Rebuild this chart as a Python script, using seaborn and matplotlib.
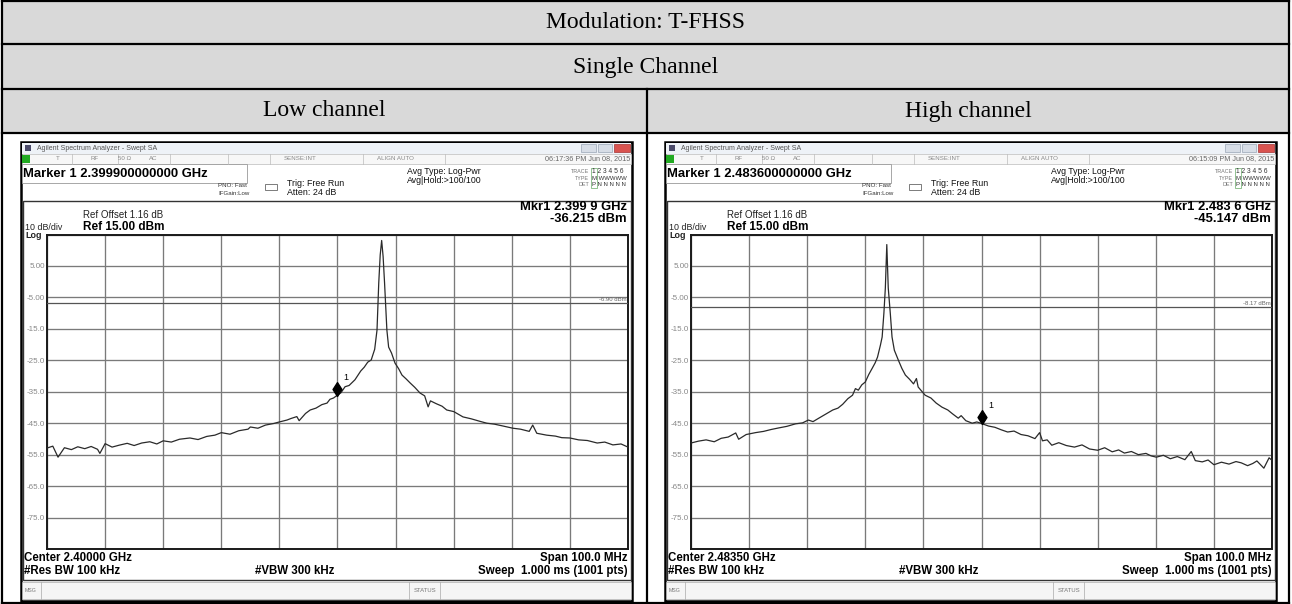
import numpy as np
import matplotlib
matplotlib.use("Agg")
import matplotlib.pyplot as plt
import matplotlib.transforms as mtransforms
from matplotlib.patches import Rectangle
from matplotlib.path import Path
import seaborn as sns

# ---------------- data ----------------
TABLE_TITLE = "Modulation: T-FHSS"
TABLE_SUB = "Single Channel"
COLUMN_TITLES = ["Low channel", "High channel"]

LOW_START, LOW_STOP = 2350.0, 2450.0      # MHz (center 2.40000 GHz, span 100 MHz)
HIGH_START, HIGH_STOP = 2433.5, 2533.5    # MHz (center 2.48350 GHz, span 100 MHz)

LOW_FREQ = [2350.0, 2351.0, 2351.9, 2353.0, 2354.2, 2355.3, 2356.5, 2357.6, 2358.7, 2359.1,
            2360.0, 2361.2, 2362.4, 2363.8, 2365.0, 2366.3, 2367.7, 2368.9, 2370.0, 2371.4,
            2372.8, 2374.6, 2376.0, 2377.5, 2378.9, 2380.0, 2381.5, 2383.0, 2384.6, 2385.0,
            2386.3, 2387.6, 2389.0, 2390.0, 2391.3, 2392.0, 2393.0, 2393.4, 2394.5, 2395.3,
            2396.3, 2397.3, 2398.2, 2398.7, 2399.3, 2399.9, 2400.6, 2401.3, 2402.0, 2403.0,
            2404.0, 2404.6, 2405.2, 2405.8, 2406.4, 2406.8, 2407.1, 2407.35, 2407.6, 2407.85,
            2408.1, 2408.5, 2408.8, 2409.3, 2409.9, 2410.5, 2411.1, 2411.8, 2412.5, 2413.3,
            2414.2, 2415.0, 2415.6, 2416.0, 2417.0, 2418.0, 2418.8, 2420.0, 2421.6, 2423.0,
            2424.5, 2425.7, 2427.0, 2428.5, 2430.2, 2431.5, 2433.0, 2433.6, 2434.3, 2436.0,
            2437.5, 2438.6, 2440.0, 2441.5, 2443.0, 2444.7, 2446.0, 2447.4, 2448.8, 2450.0]
LOW_LEVEL = [-52.9, -52.3, -55.8, -52.8, -53.4, -52.5, -53.1, -52.4, -53.3, -54.6,
             -51.5, -52.6, -52.0, -51.4, -52.1, -51.3, -50.9, -51.6, -50.6, -51.0,
             -50.1, -49.7, -50.2, -49.2, -48.8, -48.0, -48.5, -47.4, -46.9, -46.2,
             -46.6, -45.6, -45.1, -44.6, -44.0, -43.5, -42.9, -44.2, -41.9, -40.8,
             -40.2, -39.1, -38.6, -37.4, -37.0, -36.2, -35.3, -33.4, -33.0, -31.2,
             -28.4, -27.2, -25.6, -24.9, -21.5, -15.4, -0.4, 8.5, 13.1, 8.0,
             -0.4, -15.4, -20.8, -22.7, -25.9, -27.6, -29.7, -30.9, -32.2, -33.6,
             -35.4, -36.3, -39.8, -37.9, -38.8, -39.6, -40.8, -41.3, -43.0, -43.6,
             -44.4, -45.0, -45.3, -45.9, -46.6, -46.9, -47.6, -45.6, -48.2, -48.8,
             -49.1, -49.6, -49.7, -50.3, -50.5, -51.3, -51.0, -51.9, -51.6, -52.6]

HIGH_FREQ = [2433.5, 2434.8, 2436.1, 2437.5, 2438.7, 2439.9, 2441.2, 2441.7, 2443.0, 2444.6,
             2446.0, 2447.3, 2448.6, 2450.0, 2451.5, 2452.7, 2453.7, 2454.5, 2455.5, 2456.7,
             2457.9, 2458.8, 2459.6, 2460.5, 2461.3, 2461.8, 2462.3, 2462.9, 2463.5, 2464.1,
             2464.7, 2465.2, 2465.6, 2466.1, 2466.4, 2466.7, 2466.95, 2467.2, 2467.45, 2467.8,
             2468.1, 2468.5, 2469.2, 2469.8, 2470.4, 2471.1, 2471.8, 2472.3, 2472.6, 2473.8,
             2474.8, 2475.7, 2476.7, 2477.7, 2478.5, 2479.5, 2480.0, 2480.8, 2481.9, 2482.7,
             2483.6, 2484.7, 2485.8, 2486.9, 2488.0, 2489.1, 2490.3, 2491.5, 2492.7, 2493.5,
             2494.0, 2494.8, 2495.6, 2496.8, 2498.1, 2499.5, 2500.8, 2502.1, 2503.5, 2504.7,
             2506.0, 2507.1, 2508.1, 2509.3, 2510.5, 2511.8, 2512.7, 2513.6, 2514.8, 2516.0,
             2517.2, 2518.5, 2519.6, 2520.3, 2521.5, 2522.5, 2523.5, 2524.8, 2526.1, 2527.3,
             2528.2, 2529.3, 2530.2, 2530.9, 2532.1, 2533.0, 2533.5]
HIGH_LEVEL = [-51.3, -50.7, -50.3, -50.9, -49.8, -49.4, -48.1, -50.1, -48.6, -48.0,
              -47.6, -47.0, -46.5, -46.0, -45.2, -44.9, -44.0, -44.5, -43.4, -42.1,
              -40.8, -40.2, -39.0, -37.2, -36.1, -34.0, -34.5, -32.8, -31.9, -29.5,
              -27.5, -25.8, -24.0, -20.2, -17.6, -10.0, -2.0, 11.8, -2.0, -10.0,
              -17.6, -21.8, -25.0, -27.6, -29.7, -31.0, -32.5, -30.8, -33.5, -36.1,
              -37.0, -38.6, -39.9, -40.8, -42.0, -43.4, -42.6, -44.2, -45.0, -44.6,
              -45.15, -45.9, -46.3, -47.1, -47.8, -47.5, -48.6, -49.0, -49.9, -48.0,
              -50.6, -50.3, -52.0, -51.2, -52.1, -52.6, -51.9, -53.2, -53.6, -52.8,
              -54.1, -53.5, -54.5, -54.0, -55.0, -54.6, -55.4, -55.8, -55.2, -56.3,
              -55.6, -56.6, -54.0, -56.9, -57.3, -56.7, -58.2, -57.4, -58.0, -57.2,
              -57.6, -58.5, -57.8, -57.0, -59.3, -56.0, -56.8]

MARKER_FREQ = [2399.9, 2483.6]
MARKER_LEVEL = [-36.215, -45.147]
DISPLAY_LINE = [-6.90, -8.17]

REF_LEVEL = 15.0
Y_TICKS = [-85, -75, -65, -55, -45, -35, -25, -15, -5, 5, 15]
Y_TICK_LABELS = ["", "-75.0", "-65.0", "-55.0", "-45.0", "-35.0", "-25.0", "-15.0", "-5.00", "5.00", ""]

MARKER_HEAD = ["Marker 1 2.399900000000 GHz", "Marker 1 2.483600000000 GHz"]
MKR_FREQ_TXT = ["Mkr1 2.399 9 GHz", "Mkr1 2.483 6 GHz"]
MKR_LEVEL_TXT = ["-36.215 dBm", "-45.147 dBm"]
CENTER_TXT = ["Center 2.40000 GHz", "Center 2.48350 GHz"]
TIME_TXT = ["06:17:36 PM Jun 08, 2015", "06:15:09 PM Jun 08, 2015"]

# ---------------- figure ----------------
sns.set_theme(style="white")
plt.rcParams['font.family'] = ['Liberation Sans', 'DejaVu Sans']
SANS = ['Liberation Sans', 'DejaVu Sans']
SERIF = ['Liberation Serif', 'DejaVu Serif']

W, H = 1292, 604
fig = plt.figure(figsize=(W / 100, H / 100), dpi=100)
bg = fig.add_axes([0, 0, 1, 1])
bg.set_xlim(0, W)
bg.set_ylim(H, 0)
bg.axis('off')


def rect(x0, y0, x1, y1, fc='none', ec='none', lw=0.0, z=1):
    bg.add_patch(Rectangle((x0, y0), x1 - x0, y1 - y0, facecolor=fc,
                           edgecolor=ec, linewidth=lw, zorder=z))


def line(x0, y0, x1, y1, color='black', lw=1.0, z=3):
    bg.plot([x0, x1], [y0, y1], color=color, lw=lw, zorder=z, solid_capstyle='projecting')


def txt(x, y, s, size=6, color='black', ha='left', va='center', weight='normal', family=None, z=5):
    bg.text(x, y, s, fontsize=size, color=color, ha=ha, va=va, fontweight=weight,
            family=family or SANS, zorder=z)


# ---- table ----
TL, TR = 2, 1289
rect(TL, 0, TR, 133, fc='#d9d9d9')
for yy in (1, 44, 89, 133, 603):
    line(TL, yy, TR, yy, lw=1.6)
line(TL, 0, TL, H, lw=1.6)
line(TR, 0, TR, H, lw=1.6)
line(647, 89, 647, H, lw=1.6)
txt(646, 23, TABLE_TITLE, size=17, ha='center', family=SERIF)
txt(646, 67, TABLE_SUB, size=17, ha='center', family=SERIF)
txt((TL + 647) / 2, 111, COLUMN_TITLES[0], size=17, ha='center', family=SERIF)
txt((647 + TR) / 2, 111, COLUMN_TITLES[1], size=17, ha='center', family=SERIF)


def chrome(ox, i):
    # window
    rect(ox + 21, 142, ox + 632, 601, fc='white', ec='black', lw=1.8, z=1)
    rect(ox + 22, 143, ox + 631, 154, fc='#eef2f7', z=2)
    rect(ox + 25, 145, ox + 31, 151, fc='#4a4a6a', z=3)
    txt(ox + 37, 148.5, 'Agilent Spectrum Analyzer - Swept SA', size=5.0, color='#555')
    rect(ox + 581, 144, ox + 596, 152, fc='#d7dde6', ec='#9aa5b5', lw=0.5, z=3)
    rect(ox + 598, 144, ox + 612, 152, fc='#d7dde6', ec='#9aa5b5', lw=0.5, z=3)
    rect(ox + 614, 144, ox + 630, 152, fc='#d9534f', ec='#a33333', lw=0.5, z=3)
    # status row
    rect(ox + 22, 154, ox + 631, 164, fc='#f7f7f7', ec='#bbbbbb', lw=0.5, z=2)
    rect(ox + 22, 155, ox + 30, 163, fc='#22aa22', z=3)
    for xx in (72, 118, 170, 228, 270, 363, 445):
        line(ox + xx, 154, ox + xx, 164, color='#bbbbbb', lw=0.5)
    for xx, s in ((58, 'T'), (95, 'RF'), (125, '50 Ω'), (153, 'AC'), (300, 'SENSE:INT'), (395, 'ALIGN AUTO')):
        txt(ox + xx, 159, s, size=4.4, color='#888', ha='center')
    txt(ox + 630, 159, TIME_TXT[i], size=5.2, color='#666', ha='right')
    # marker box
    rect(ox + 22, 164, ox + 247, 183, fc='white', ec='#999999', lw=0.6, z=2)
    txt(ox + 23, 174, MARKER_HEAD[i], size=9.4, weight='bold')
    # settings
    txt(ox + 218, 185.5, 'PNO: Fast', size=4.4, color='#333')
    txt(ox + 218, 193.5, 'IFGain:Low', size=4.4, color='#333')
    rect(ox + 265, 184, ox + 277, 190, fc='white', ec='#666666', lw=0.6, z=3)
    txt(ox + 287, 183, 'Trig: Free Run', size=6.4, color='#111')
    txt(ox + 287, 192.5, 'Atten: 24 dB', size=6.4, color='#111')
    txt(ox + 407, 171.5, 'Avg Type: Log-Pwr', size=6.3, color='#111')
    txt(ox + 407, 180.5, 'Avg|Hold:>100/100', size=6.3, color='#111')
    txt(ox + 589, 171.5, 'TRACE', size=3.9, color='#777', ha='right')
    txt(ox + 589, 178, 'TYPE', size=3.9, color='#777', ha='right')
    txt(ox + 589, 184.5, 'DET', size=3.9, color='#777', ha='right')
    rect(ox + 591, 168, ox + 597, 188, fc='none', ec='#66aa66', lw=0.5, z=3)
    txt(ox + 592, 171.5, '1 2 3 4 5 6', size=4.8, color='#333')
    txt(ox + 592, 178, 'M WWWWW', size=4.3, color='#333')
    txt(ox + 592, 184.5, 'P N N N N N', size=4.3, color='#333')
    # plot frame
    rect(ox + 23, 201, ox + 631, 580, fc='none', ec='#333333', lw=1.0, z=2)
    txt(ox + 83, 215.5, 'Ref Offset 1.16 dB', size=7.0, color='#222')
    txt(ox + 83, 227, 'Ref 15.00 dBm', size=8.5, weight='bold')
    txt(ox + 25, 227, '10 dB/div', size=6.4, color='#222')
    txt(ox + 25, 235.5, 'Log', size=6.4, color='#222', weight='bold')
    txt(ox + 627, 206.5, MKR_FREQ_TXT[i], size=9.4, weight='bold', ha='right')
    txt(ox + 627, 219.5, MKR_LEVEL_TXT[i], size=9.4, weight='bold', ha='right')
    txt(ox + 24, 558, CENTER_TXT[i], size=8.3, weight='bold')
    txt(ox + 24, 571, '#Res BW 100 kHz', size=8.3, weight='bold')
    txt(ox + 255, 571, '#VBW 300 kHz', size=8.3, weight='bold')
    txt(ox + 628, 558, 'Span 100.0 MHz', size=8.3, weight='bold', ha='right')
    txt(ox + 628, 571, 'Sweep  1.000 ms (1001 pts)', size=8.3, weight='bold', ha='right')
    # message bar
    rect(ox + 22, 582, ox + 631, 599, fc='#f5f5f5', ec='#aaaaaa', lw=0.5, z=2)
    line(ox + 41, 582, ox + 41, 599, color='#aaaaaa', lw=0.5)
    line(ox + 409, 582, ox + 409, 599, color='#aaaaaa', lw=0.5)
    line(ox + 440, 582, ox + 440, 599, color='#aaaaaa', lw=0.5)
    txt(ox + 25, 590, 'MSG', size=3.8, color='#777')
    txt(ox + 424.5, 590, 'STATUS', size=4.3, color='#777', ha='center')


diamond = Path([(0, 0), (0.32, 0.5), (0, 1), (-0.32, 0.5), (0, 0)],
               [Path.MOVETO, Path.LINETO, Path.LINETO, Path.LINETO, Path.CLOSEPOLY])

traces = [(LOW_FREQ, LOW_LEVEL, LOW_START, LOW_STOP), (HIGH_FREQ, HIGH_LEVEL, HIGH_START, HIGH_STOP)]
OFFSETS = [0, 644]

for i, (fx, lv, f0, f1) in enumerate(traces):
    ox = OFFSETS[i]
    chrome(ox, i)
    gx0, gx1, gy0, gy1 = ox + 47, ox + 628, 234.5, 549
    ax = fig.add_axes([gx0 / W, 1 - gy1 / H, (gx1 - gx0) / W, (gy1 - gy0) / H])
    ax.set_facecolor('white')
    sns.lineplot(x=fx, y=lv, ax=ax, color='#2a2a2a', linewidth=0.9, estimator=None, sort=False, zorder=4)
    ax.set_xlim(f0, f1)
    ax.set_ylim(Y_TICKS[0], REF_LEVEL)
    ax.set_xticks(np.linspace(f0, f1, 11))
    ax.set_xticklabels([])
    ax.set_yticks(Y_TICKS)
    ax.set_yticklabels(Y_TICK_LABELS)
    ax.tick_params(axis='both', length=0)
    ax.tick_params(axis='y', pad=1.5, labelsize=5.8, labelcolor='#888888')
    ax.grid(True, color='#7a7a7a', linewidth=0.95)
    ax.set_xlabel('')
    ax.set_ylabel('')
    for sp in ax.spines.values():
        sp.set_visible(True)
        sp.set_color('#1a1a1a')
        sp.set_linewidth(1.4)
    # display line
    ax.axhline(DISPLAY_LINE[i], color='#555555', linewidth=0.9, zorder=3)
    trans = mtransforms.blended_transform_factory(ax.transAxes, ax.transData)
    ax.text(0.997, DISPLAY_LINE[i] + 0.4, f"{DISPLAY_LINE[i]:.2f} dBm", transform=trans,
            ha='right', va='bottom', fontsize=4.3, color='#666666')
    # marker
    ax.plot([MARKER_FREQ[i]], [MARKER_LEVEL[i]], linestyle='none', marker=diamond,
            markersize=20, color='black', zorder=6)
    ax.annotate('1', xy=(MARKER_FREQ[i], MARKER_LEVEL[i]), xytext=(4.5, 11),
                textcoords='offset points', fontsize=6.5, color='black', zorder=6)

fig.savefig('out.png', dpi=100)
